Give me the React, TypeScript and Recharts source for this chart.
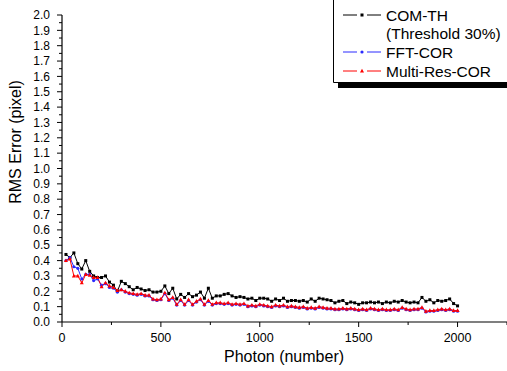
import React from 'react';
import { LineChart, Line, XAxis, YAxis, Legend } from 'recharts';

const photons = [
  20, 40, 60, 80, 100, 120, 140, 160, 180, 200,
  220, 240, 260, 280, 300, 320, 340, 360, 380, 400,
  420, 440, 460, 480, 500, 520, 540, 560, 580, 600,
  620, 640, 660, 680, 700, 720, 740, 760, 780, 800,
  820, 840, 860, 880, 900, 920, 940, 960, 980, 1000,
  1020, 1040, 1060, 1080, 1100, 1120, 1140, 1160, 1180, 1200,
  1220, 1240, 1260, 1280, 1300, 1320, 1340, 1360, 1380, 1400,
  1420, 1440, 1460, 1480, 1500, 1520, 1540, 1560, 1580, 1600,
  1620, 1640, 1660, 1680, 1700, 1720, 1740, 1760, 1780, 1800,
  1820, 1840, 1860, 1880, 1900, 1920, 1940, 1960, 1980, 2000,
];

const comTh = [
  0.44, 0.42, 0.45, 0.38, 0.345, 0.40, 0.33, 0.30, 0.29, 0.29,
  0.30, 0.26, 0.24, 0.20, 0.265, 0.25, 0.23, 0.21, 0.225, 0.215,
  0.205, 0.21, 0.195, 0.195, 0.20, 0.235, 0.185, 0.22, 0.15, 0.18,
  0.16, 0.185, 0.165, 0.175, 0.195, 0.155, 0.22, 0.155, 0.17, 0.17,
  0.18, 0.185, 0.17, 0.16, 0.165, 0.16, 0.15, 0.155, 0.14, 0.155,
  0.155, 0.15, 0.135, 0.15, 0.14, 0.155, 0.135, 0.14, 0.14, 0.135,
  0.14, 0.13, 0.15, 0.135, 0.155, 0.15, 0.145, 0.14, 0.125, 0.135,
  0.14, 0.12, 0.13, 0.125, 0.115, 0.125, 0.125, 0.13, 0.125, 0.13,
  0.12, 0.13, 0.125, 0.135, 0.13, 0.14, 0.13, 0.125, 0.13, 0.125,
  0.16, 0.135, 0.145, 0.125, 0.14, 0.135, 0.14, 0.15, 0.12, 0.105,
];

const fftCor = [
  0.40, 0.42, 0.36, 0.35, 0.28, 0.31, 0.31, 0.27, 0.28, 0.24,
  0.25, 0.225, 0.22, 0.195, 0.21, 0.195, 0.185, 0.18, 0.175, 0.18,
  0.17, 0.17, 0.145, 0.14, 0.145, 0.185, 0.14, 0.155, 0.11, 0.14,
  0.11, 0.14, 0.11, 0.13, 0.145, 0.11, 0.135, 0.11, 0.12, 0.12,
  0.115, 0.12, 0.11, 0.115, 0.11, 0.115, 0.1, 0.105, 0.1, 0.11,
  0.105, 0.1, 0.095, 0.105, 0.1, 0.105, 0.095, 0.1, 0.095, 0.09,
  0.095, 0.085, 0.09, 0.085, 0.095, 0.09, 0.085, 0.085, 0.08, 0.08,
  0.085, 0.08, 0.085, 0.08, 0.075, 0.08, 0.075, 0.085, 0.08, 0.075,
  0.08, 0.075, 0.075, 0.08, 0.075, 0.09, 0.08, 0.075, 0.08, 0.08,
  0.09, 0.065, 0.07, 0.07, 0.075, 0.08, 0.075, 0.08, 0.07, 0.07,
];

const multiResCor = [
  0.40, 0.41, 0.30, 0.30, 0.255, 0.31, 0.305, 0.29, 0.29, 0.23,
  0.255, 0.235, 0.225, 0.205, 0.21, 0.20, 0.19, 0.185, 0.18, 0.185,
  0.175, 0.175, 0.15, 0.145, 0.15, 0.19, 0.145, 0.16, 0.115, 0.145,
  0.115, 0.145, 0.115, 0.135, 0.15, 0.115, 0.14, 0.115, 0.125, 0.125,
  0.12, 0.125, 0.115, 0.12, 0.115, 0.12, 0.105, 0.11, 0.105, 0.115,
  0.11, 0.105, 0.1, 0.11, 0.105, 0.11, 0.1, 0.105, 0.1, 0.095,
  0.1, 0.09, 0.095, 0.09, 0.1, 0.095, 0.09, 0.09, 0.085, 0.085,
  0.09, 0.085, 0.09, 0.085, 0.08, 0.085, 0.08, 0.09, 0.085, 0.08,
  0.085, 0.08, 0.08, 0.085, 0.08, 0.095, 0.085, 0.08, 0.085, 0.085,
  0.095, 0.07, 0.075, 0.075, 0.08, 0.085, 0.08, 0.085, 0.075, 0.075,
];

const xMajorTicks = [0, 500, 1000, 1500, 2000];
const xMinorTicks = [250, 750, 1250, 1750, 2250];
const yMajorTicks = [0.0, 0.1, 0.2, 0.3, 0.4, 0.5, 0.6, 0.7, 0.8, 0.9, 1.0, 1.1, 1.2, 1.3, 1.4, 1.5, 1.6, 1.7, 1.8, 1.9, 2.0];
const yMinorTicks = [0.05, 0.15, 0.25, 0.35, 0.45, 0.55, 0.65, 0.75, 0.85, 0.95, 1.05, 1.15, 1.25, 1.35, 1.45, 1.55, 1.65, 1.75, 1.85, 1.95];

const seriesNames = ['COM-TH', 'FFT-COR', 'Multi-Res-COR'];
const seriesColors = ['#000000', '#2a2aff', '#ff0000'];

const data = photons.map((p, i) => ({
  photon: p,
  comTh: comTh[i],
  fftCor: fftCor[i],
  multiRes: multiResCor[i],
}));

const FONT = 'Arial, "Liberation Sans", sans-serif';
const AXIS_X = 62;
const AXIS_Y = 322;

const isMajor = (v: number, list: number[]) => list.some((m) => Math.abs(m - v) < 1e-6);

const XTick = (props: any) => {
  const { x, payload } = props;
  const v = payload.value;
  const major = isMajor(v, xMajorTicks);
  return (
    <g>
      <line x1={x} x2={x} y1={AXIS_Y} y2={AXIS_Y + (major ? 5 : 3)} stroke="#000" strokeWidth={1} />
      {major && (
        <text x={x} y={AXIS_Y + 20} textAnchor="middle" fontSize={12.5} fontFamily={FONT} fill="#000">
          {v}
        </text>
      )}
    </g>
  );
};

const YTick = (props: any) => {
  const { y, payload } = props;
  const v = payload.value;
  const major = isMajor(v, yMajorTicks);
  if (!major) {
    return <line x1={AXIS_X - 3} x2={AXIS_X} y1={y} y2={y} stroke="#000" strokeWidth={1} />;
  }
  return (
    <g>
      <line x1={AXIS_X - 5} x2={AXIS_X} y1={y} y2={y} stroke="#000" strokeWidth={1} />
      <text x={AXIS_X - 12} y={y + 4.2} textAnchor="end" fontSize={12} fontFamily={FONT} fill="#000">
        {v.toFixed(1)}
      </text>
    </g>
  );
};

const SquareDot = (props: any) => {
  const { cx, cy } = props;
  if (cx == null || cy == null) return null;
  return <rect key={`s${cx}`} x={cx - 1.5} y={cy - 1.5} width={3} height={3} fill="#000" />;
};
const CircleDot = (props: any) => {
  const { cx, cy } = props;
  if (cx == null || cy == null) return null;
  return <circle key={`c${cx}`} cx={cx} cy={cy} r={1.6} fill={seriesColors[1]} />;
};
const TriDot = (props: any) => {
  const { cx, cy } = props;
  if (cx == null || cy == null) return null;
  return (
    <polygon
      key={`t${cx}`}
      points={`${cx},${cy - 2.2} ${cx - 2},${cy + 1.5} ${cx + 2},${cy + 1.5}`}
      fill={seriesColors[2]}
    />
  );
};

const LegendBox = () => {
  const rows = [
    { y: 15, color: seriesColors[0], marker: 'sq', text: seriesNames[0] },
    { y: 52, color: seriesColors[1], marker: 'ci', text: seriesNames[1] },
    { y: 71, color: seriesColors[2], marker: 'tr', text: seriesNames[2] },
  ];
  const ox = 333;
  return (
    <svg width={174} height={90} style={{ display: 'block' }}>
      <rect x={5} y={83} width={174} height={5} fill="#000" />
      <line x1={0.5} x2={0.5} y1={0} y2={82.5} stroke="#000" strokeWidth={1} />
      <line x1={0.5} x2={174} y1={82.5} y2={82.5} stroke="#000" strokeWidth={1} />
      {rows.map((r) => (
        <g key={r.text}>
          <line x1={343 - ox} x2={357 - ox} y1={r.y} y2={r.y} stroke={r.color} strokeWidth={1} />
          <line x1={367 - ox} x2={381 - ox} y1={r.y} y2={r.y} stroke={r.color} strokeWidth={1} />
          {r.marker === 'sq' && <rect x={362 - ox - 1.5} y={r.y - 1.5} width={3} height={3} fill={r.color} />}
          {r.marker === 'ci' && <circle cx={362 - ox} cy={r.y} r={1.6} fill={r.color} />}
          {r.marker === 'tr' && (
            <polygon
              points={`${362 - ox},${r.y - 2.2} ${362 - ox - 2},${r.y + 1.5} ${362 - ox + 2},${r.y + 1.5}`}
              fill={r.color}
            />
          )}
          <text x={386 - ox} y={r.y + 5.5} fontSize={15.5} fontFamily={FONT} fill="#000">
            {r.text}
          </text>
        </g>
      ))}
      <text x={386 - ox} y={33 + 5.5} fontSize={15.5} fontFamily={FONT} fill="#000">
        (Threshold 30%)
      </text>
    </svg>
  );
};

export default function App() {
  return (
    <div style={{ position: 'absolute', left: 0, top: 0, width: 507, height: 371, background: '#fff' }}>
      <LineChart width={507} height={371} data={data} margin={{ top: 15, right: 0, bottom: 0, left: 0 }}>
        <XAxis
          dataKey="photon"
          type="number"
          domain={[0, 2250]}
          ticks={[...xMajorTicks, ...xMinorTicks].sort((a, b) => a - b)}
          interval={0}
          height={49}
          tickLine={false}
          tick={<XTick />}
          axisLine={{ stroke: '#000', strokeWidth: 1.2 }}
          label={{
            content: () => (
              <text x={284} y={362} textAnchor="middle" fontSize={16} fontFamily={FONT} fill="#000">
                Photon (number)
              </text>
            ),
          }}
        />
        <YAxis
          type="number"
          domain={[0, 2]}
          ticks={[...yMajorTicks, ...yMinorTicks].sort((a, b) => a - b)}
          interval={0}
          width={62}
          tickLine={false}
          tick={<YTick />}
          axisLine={{ stroke: '#000', strokeWidth: 1.2 }}
          label={{
            content: () => (
              <text
                x={0}
                y={0}
                transform="translate(21,142) rotate(-90)"
                textAnchor="middle"
                fontSize={16}
                fontFamily={FONT}
                fill="#000"
              >
                RMS Error (pixel)
              </text>
            ),
          }}
        />
        <Legend
          layout="horizontal"
          verticalAlign="middle"
          align="center"
          content={() => <LegendBox />}
          wrapperStyle={{ position: 'absolute', left: 333, top: 0, width: 174, height: 90 }}
        />
        <Line
          dataKey="comTh"
          name={seriesNames[0]}
          stroke={seriesColors[0]}
          strokeWidth={1}
          dot={<SquareDot />}
          isAnimationActive={false}
        />
        <Line
          dataKey="fftCor"
          name={seriesNames[1]}
          stroke={seriesColors[1]}
          strokeWidth={1}
          dot={<CircleDot />}
          isAnimationActive={false}
        />
        <Line
          dataKey="multiRes"
          name={seriesNames[2]}
          stroke={seriesColors[2]}
          strokeWidth={1}
          dot={<TriDot />}
          isAnimationActive={false}
        />
      </LineChart>
    </div>
  );
}
